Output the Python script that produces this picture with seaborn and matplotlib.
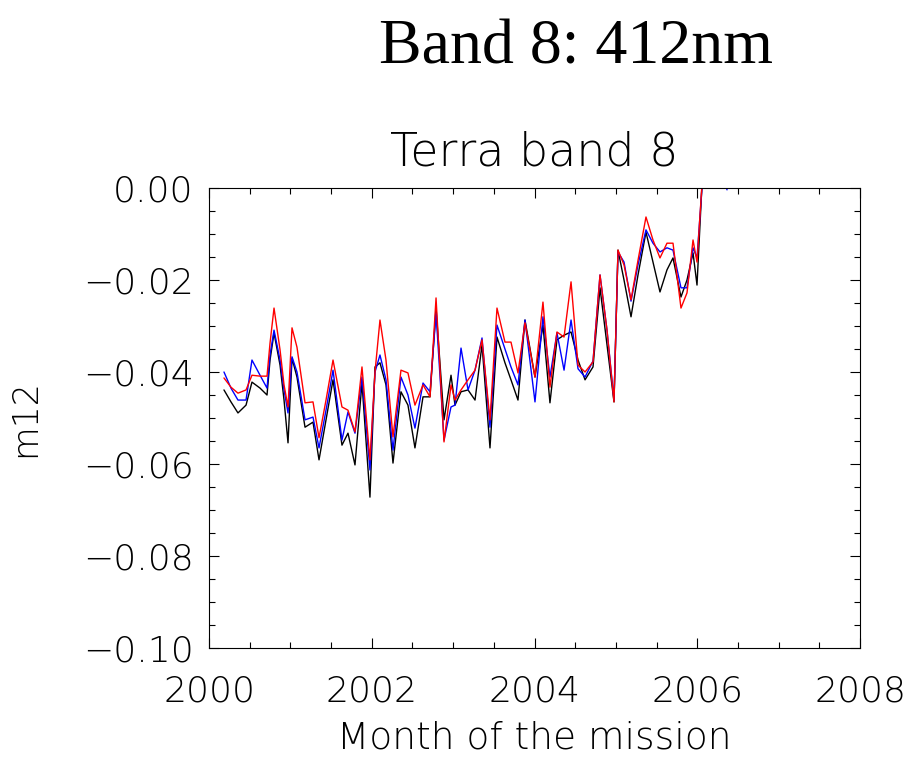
import numpy as np
import pandas as pd
import matplotlib
matplotlib.use("Agg")
import matplotlib.pyplot as plt
import seaborn as sns
from matplotlib.ticker import MultipleLocator, FuncFormatter

# Sample times (decimal year)
year = [
    2000.184, 2000.270, 2000.356, 2000.455, 2000.528, 2000.627, 2000.713, 2000.750,
    2000.799, 2000.873, 2000.922, 2000.971, 2001.020, 2001.081, 2001.180, 2001.278,
    2001.352, 2001.438, 2001.524, 2001.634, 2001.708, 2001.794, 2001.880, 2001.978,
    2002.040, 2002.101, 2002.175, 2002.261, 2002.359, 2002.445, 2002.531, 2002.630,
    2002.716, 2002.790, 2002.888, 2002.974, 2003.023, 2003.097, 2003.183, 2003.269,
    2003.355, 2003.453, 2003.539, 2003.637, 2003.711, 2003.797, 2003.883, 2004.006,
    2004.104, 2004.190, 2004.276, 2004.363, 2004.449, 2004.535, 2004.621, 2004.719,
    2004.805, 2004.891, 2004.977, 2005.026, 2005.100, 2005.186, 2005.272, 2005.370,
    2005.456, 2005.542, 2005.628, 2005.702, 2005.800, 2005.874, 2005.948, 2005.997,
    2006.058, 2006.132, 2006.366,
]

m12_black = [
    -0.0439, -0.0465, -0.0489, -0.0472, -0.0422, -0.0435, -0.0450, -0.0374,
    -0.0315, -0.0385, -0.0461, -0.0554, -0.0370, -0.0411, -0.0520, -0.0509,
    -0.0591, -0.0504, -0.0417, -0.0559, -0.0533, -0.0602, -0.0424, -0.0672,
    -0.0389, -0.0380, -0.0428, -0.0598, -0.0443, -0.0472, -0.0565, -0.0454,
    -0.0454, -0.0261, -0.0504, -0.0407, -0.0472, -0.0443, -0.0439, -0.0461,
    -0.0341, -0.0565, -0.0324, -0.0380, -0.0417, -0.0461, -0.0287, -0.0411,
    -0.0298, -0.0467, -0.0330, -0.0320, -0.0313, -0.0374, -0.0417, -0.0389,
    -0.0217, -0.0341, -0.0465, -0.0135, -0.0200, -0.0280, -0.0189, -0.0096,
    -0.0161, -0.0226, -0.0178, -0.0152, -0.0237, -0.0200, -0.0141, -0.0211,
    0.0007, 0.0150, np.nan,
]

m12_blue = [
    -0.0400, -0.0435, -0.0461, -0.0461, -0.0374, -0.0407, -0.0435, -0.0363,
    -0.0309, -0.0374, -0.0439, -0.0489, -0.0367, -0.0400, -0.0504, -0.0498,
    -0.0565, -0.0483, -0.0396, -0.0548, -0.0487, -0.0533, -0.0411, -0.0613,
    -0.0400, -0.0363, -0.0417, -0.0570, -0.0411, -0.0450, -0.0522, -0.0424,
    -0.0443, -0.0272, -0.0548, -0.0476, -0.0472, -0.0348, -0.0439, -0.0396,
    -0.0326, -0.0520, -0.0298, -0.0350, -0.0389, -0.0428, -0.0287, -0.0465,
    -0.0280, -0.0411, -0.0315, -0.0396, -0.0287, -0.0393, -0.0411, -0.0376,
    -0.0189, -0.0309, -0.0461, -0.0139, -0.0161, -0.0246, -0.0167, -0.0091,
    -0.0120, -0.0139, -0.0130, -0.0135, -0.0217, -0.0217, -0.0130, -0.0152,
    0.0000, 0.0150, -0.0004,
]

m12_red = [
    -0.0413, -0.0433, -0.0446, -0.0439, -0.0407, -0.0409, -0.0409, -0.0337,
    -0.0261, -0.0352, -0.0428, -0.0476, -0.0304, -0.0346, -0.0467, -0.0465,
    -0.0543, -0.0461, -0.0374, -0.0476, -0.0483, -0.0530, -0.0389, -0.0591,
    -0.0400, -0.0287, -0.0374, -0.0541, -0.0396, -0.0402, -0.0472, -0.0428,
    -0.0454, -0.0239, -0.0552, -0.0428, -0.0461, -0.0439, -0.0417, -0.0396,
    -0.0330, -0.0504, -0.0261, -0.0335, -0.0335, -0.0402, -0.0293, -0.0411,
    -0.0248, -0.0433, -0.0313, -0.0324, -0.0204, -0.0385, -0.0400, -0.0378,
    -0.0189, -0.0309, -0.0465, -0.0135, -0.0167, -0.0243, -0.0157, -0.0063,
    -0.0113, -0.0152, -0.0120, -0.0120, -0.0261, -0.0228, -0.0113, -0.0161,
    0.0007, 0.0150, np.nan,
]

series_names = ["black", "blue", "red"]
series_colors = {"black": "#000000", "blue": "#0000ff", "red": "#ff0000"}

x_ticks = [2000, 2002, 2004, 2006, 2008]
y_ticks = [0.00, -0.02, -0.04, -0.06, -0.08, -0.10]

df = pd.DataFrame({
    "year": year * 3,
    "m12": m12_black + m12_blue + m12_red,
    "series": sum([[s] * len(year) for s in series_names], []),
})

sns.set_style("ticks")
plt.rcParams["font.family"] = ["DejaVu Sans"]
for key in ["text.color", "axes.labelcolor", "xtick.color", "ytick.color",
            "axes.edgecolor"]:
    plt.rcParams[key] = "black"

thin = dict(family=["DejaVu Sans"], fontweight="light")

fig = plt.figure(figsize=(9.10, 7.58), dpi=100)
ax = fig.add_axes([209 / 910, 110 / 758, 651 / 910, 460 / 758])

sns.lineplot(
    data=df, x="year", y="m12", hue="series", hue_order=series_names,
    palette=series_colors, estimator=None, sort=False, legend=False,
    linewidth=1.0, ax=ax,
)

ax.set_xlim(2000, 2008)
ax.set_ylim(-0.10, 0.0)
ax.set_xticks(x_ticks)
ax.set_yticks(y_ticks)
ax.xaxis.set_minor_locator(MultipleLocator(0.5))
ax.yaxis.set_minor_locator(MultipleLocator(0.005))
ax.yaxis.set_major_formatter(
    FuncFormatter(lambda v, _: f"{v:.2f}".replace("-", "\u2212") if abs(v) > 1e-9 else "0.00"))
ax.xaxis.set_major_formatter(FuncFormatter(lambda v, _: f"{v:.0f}"))

for side in ["top", "right", "bottom", "left"]:
    ax.spines[side].set_visible(True)
    ax.spines[side].set_linewidth(0.8)
    ax.spines[side].set_color("black")

ax.tick_params(which="both", direction="in", top=True, right=True,
               color="black", width=0.8)
ax.tick_params(which="major", length=7)
ax.tick_params(which="minor", length=4)
ax.tick_params(axis="y", which="major", labelsize=26, pad=11)
ax.tick_params(axis="x", which="major", labelsize=26, pad=19)
for lab in ax.get_xticklabels() + ax.get_yticklabels():
    lab.set_fontweight("light")

ax.set_xlabel("Month of the mission", fontsize=27, **thin)
ax.set_ylabel("m12", fontsize=25, **thin)
ax.xaxis.label.set_va("baseline")
ax.xaxis.set_label_coords(0.5, -0.218)
ax.yaxis.set_label_coords(-0.257, 0.5)

ax.text(0.5, 1.05, "Terra band 8", transform=ax.transAxes, ha="center",
        va="baseline", fontsize=33, **thin)

fig.text(576 / 910, 1 - 63 / 758, "Band 8: 412nm", ha="center", va="baseline",
         fontsize=46, family=["Liberation Serif", "DejaVu Serif"], color="black")

fig.savefig("out.png", dpi=100, facecolor="white")
